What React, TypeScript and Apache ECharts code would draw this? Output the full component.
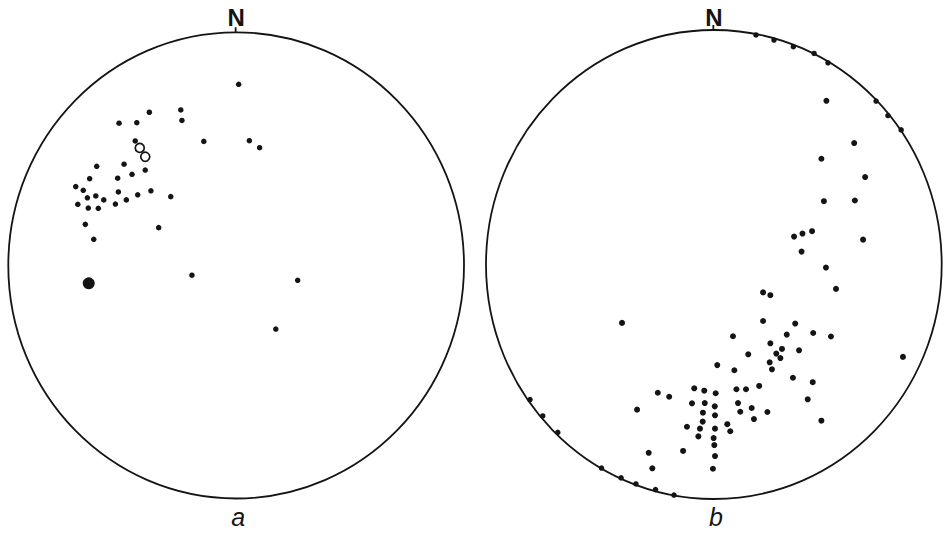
import React, { useEffect, useRef } from "react";
import * as echarts from "echarts";

// Positions are [east, north] in units of the net radius (unit circle frame)
const aPoles: [number, number][] = [
  [0.011, 0.777], [-0.381, 0.657], [-0.243, 0.667], [-0.238, 0.622],
  [-0.514, 0.61], [-0.436, 0.612], [-0.443, 0.534], [-0.142, 0.532],
  [0.058, 0.535], [0.103, 0.505], [-0.612, 0.425], [-0.492, 0.434],
  [-0.457, 0.391], [-0.399, 0.409], [-0.643, 0.372], [-0.52, 0.374],
  [-0.704, 0.338], [-0.671, 0.322], [-0.517, 0.315], [-0.432, 0.303],
  [-0.374, 0.32], [-0.287, 0.295], [-0.653, 0.29], [-0.616, 0.298],
  [-0.581, 0.281], [-0.482, 0.281], [-0.695, 0.262], [-0.649, 0.246],
  [-0.605, 0.245], [-0.53, 0.263], [-0.662, 0.176], [-0.34, 0.162],
  [-0.625, 0.112], [-0.194, -0.042], [0.27, -0.064], [0.174, -0.273],
];
const aMean: [number, number][] = [[-0.647, -0.077]];
const aOpen: [number, number][] = [[-0.423, 0.504], [-0.399, 0.466]];

const bRim: [number, number][] = [
  [0.185, 0.979], [0.264, 0.957], [0.349, 0.929], [0.44, 0.9], [0.501, 0.86],
  [0.712, 0.697], [0.764, 0.635], [0.822, 0.574],
  [-0.807, -0.576], [-0.751, -0.646], [-0.685, -0.716], [-0.493, -0.868],
  [-0.407, -0.91], [-0.342, -0.936], [-0.256, -0.96], [-0.175, -0.983],
];
const bPoles: [number, number][] = [
  [0.494, 0.698], [0.616, 0.518], [0.472, 0.451], [0.664, 0.373],
  [0.483, 0.27], [0.619, 0.273], [0.352, 0.119], [0.389, 0.132],
  [0.431, 0.142], [0.655, 0.106], [0.385, 0.055], [0.492, -0.013],
  [0.536, -0.104], [0.83, -0.394],
  [0.216, -0.119], [0.248, -0.131], [-0.403, -0.249], [0.216, -0.241],
  [0.357, -0.252], [0.436, -0.292], [0.514, -0.307], [0.32, -0.299],
  [0.084, -0.306], [0.248, -0.336], [0.374, -0.366], [0.299, -0.36],
  [0.151, -0.383], [0.274, -0.38], [0.292, -0.399], [0.245, -0.417],
  [0.015, -0.429], [0.255, -0.447], [0.09, -0.451], [0.347, -0.483],
  [0.434, -0.502], [0.199, -0.518], [-0.086, -0.528], [-0.042, -0.538],
  [0.099, -0.532], [0.141, -0.532], [-0.246, -0.547], [-0.196, -0.564],
  [0.008, -0.549], [0.412, -0.575], [-0.096, -0.592], [-0.04, -0.591],
  [0.106, -0.591], [0.004, -0.605], [0.166, -0.612], [-0.337, -0.619],
  [0.116, -0.628], [0.235, -0.629], [-0.048, -0.632], [0.005, -0.643],
  [0.176, -0.659], [0.472, -0.666], [-0.049, -0.67], [-0.118, -0.692],
  [0.059, -0.681], [-0.061, -0.7], [0.005, -0.7], [0.072, -0.711],
  [-0.068, -0.733], [-0.001, -0.74], [0.002, -0.77], [-0.286, -0.803],
  [-0.135, -0.795], [0.005, -0.817], [-0.27, -0.869], [-0.004, -0.871],
];

const northLabel = "N";
const netLabels = ["a", "b"];

const frames = [
  { left: 8.3, top: 32.3, width: 455.7, height: 466.2 },
  { left: 486, top: 30, width: 455.7, height: 469 },
];

const INK = "#141414";

export default function App() {
  const ref = useRef<HTMLDivElement>(null);
  useEffect(() => {
    document.body.style.margin = "0";
    if (!ref.current) return;
    const chart = echarts.init(ref.current, undefined, { renderer: "svg" });
    const graphics: any[] = [];
    frames.forEach((f, i) => {
      const cx = f.left + f.width / 2;
      const cy = f.top + f.height / 2;
      graphics.push({
        type: "ellipse",
        silent: true,
        z: 1,
        shape: { cx, cy, rx: f.width / 2, ry: f.height / 2 },
        style: { fill: "none", stroke: INK, lineWidth: 1.8 },
      });
      graphics.push({
        type: "line",
        silent: true,
        z: 1,
        shape: { x1: cx - 0.5, y1: f.top - 5, x2: cx - 0.5, y2: f.top },
        style: { stroke: INK, lineWidth: 1.8 },
      });
      graphics.push({
        type: "text",
        silent: true,
        z: 1,
        x: cx,
        y: 17,
        style: {
          text: northLabel,
          font: 'bold 24px "Liberation Sans", Arial, sans-serif',
          fill: INK,
          align: "center",
          verticalAlign: "middle",
          textAlign: "center",
          textVerticalAlign: "middle",
        },
      });
      graphics.push({
        type: "text",
        silent: true,
        z: 1,
        x: cx + 2,
        y: 517,
        style: {
          text: netLabels[i],
          font: 'italic 25px "Liberation Sans", Arial, sans-serif',
          fill: INK,
          align: "center",
          verticalAlign: "middle",
          textAlign: "center",
          textVerticalAlign: "middle",
        },
      });
    });

    const dot = (name: string, data: [number, number][], idx: number, size: number, extra: any = {}) => ({
      name,
      type: "scatter",
      xAxisIndex: idx,
      yAxisIndex: idx,
      data,
      symbol: "circle",
      symbolSize: size,
      z: 5,
      itemStyle: { color: INK, opacity: 1, ...extra },
      emphasis: { disabled: true },
    });

    chart.setOption({
      animation: false,
      backgroundColor: "#ffffff",
      grid: frames.map((f) => ({ ...f, containLabel: false })),
      xAxis: frames.map((_, i) => ({ gridIndex: i, type: "value", min: -1, max: 1, show: false })),
      yAxis: frames.map((_, i) => ({ gridIndex: i, type: "value", min: -1, max: 1, show: false })),
      series: [
        dot("a poles", aPoles, 0, 5.5),
        dot("a mean", aMean, 0, 12),
        dot("a open", aOpen, 0, 9, { color: "#ffffff", borderColor: INK, borderWidth: 1.7 }),
        dot("b rim", bRim, 1, 5.5),
        dot("b poles", bPoles, 1, 6),
      ],
      graphic: graphics,
    });
    return () => chart.dispose();
  }, []);
  return (
    <div
      ref={ref}
      style={{ position: "absolute", left: 0, top: 0, width: 951, height: 533, background: "#fff" }}
    />
  );
}
